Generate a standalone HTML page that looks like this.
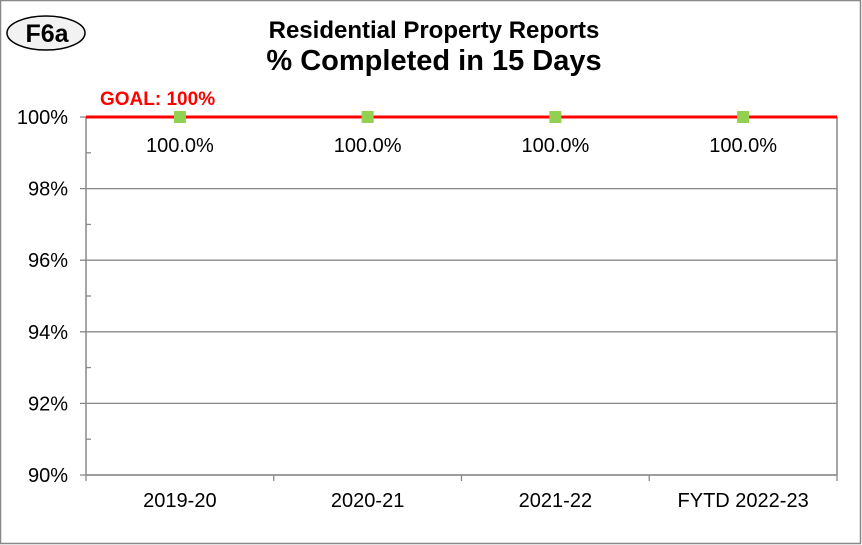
<!DOCTYPE html>
<html><head><meta charset="utf-8"><style>
html,body{margin:0;padding:0;background:#fff;}
svg{display:block;font-family:"Liberation Sans",Arial,sans-serif;}
</style></head><body>
<svg id="chart" width="862" height="545" viewBox="0 0 862 545">
<rect x="0.5" y="0.5" width="860" height="543" fill="#fff" stroke="#888" stroke-width="1.5"/>
<ellipse cx="46" cy="33" rx="39" ry="17" fill="#f2f2f2" stroke="#000" stroke-width="1.5"/>
<text x="47" y="42" text-anchor="middle" font-size="25" font-weight="bold">F6a</text>
<text x="434" y="38" text-anchor="middle" font-size="24" font-weight="bold">Residential Property Reports</text>
<text x="434" y="70" text-anchor="middle" font-size="29" font-weight="bold">% Completed in 15 Days</text>
<g id="grid"></g><g id="axes"></g><g id="marks"></g>
</svg>
<script>
const categories = ["2019-20","2020-21","2021-22","FYTD 2022-23"];
const values = [100.0,100.0,100.0,100.0];
const valueLabels = ["100.0%","100.0%","100.0%","100.0%"];
const yTicks = [90,92,94,96,98,100];
const yTickLabels = ["90%","92%","94%","96%","98%","100%"];
const goalValue = 100;
const goalLabel = "GOAL: 100%";

const NS="http://www.w3.org/2000/svg";
const L=86,R=837,T=117,B=475,yMin=90,yMax=100;
const y=v=>B-(v-yMin)/(yMax-yMin)*(B-T);
const band=(R-L)/categories.length;
const x=i=>L+band*(i+0.5);
function mk(parent,tag,attrs){const e=document.createElementNS(NS,tag);for(const k in attrs)e.setAttribute(k,attrs[k]);document.getElementById(parent).appendChild(e);return e;}
yTicks.forEach((t,i)=>{
  const g=mk('grid','line',{x1:L-6,x2:R,y1:y(t),y2:y(t),stroke:'#888','stroke-width':1.3});
  
  
  const tx=mk('axes','text',{x:68,y:y(t)+7,'text-anchor':'end','font-size':20});
  tx.textContent=yTickLabels[i];
  
  
  if(i<yTicks.length-1){
    const m=mk('axes','line',{x1:L,x2:L+5,y1:y(t+1),y2:y(t+1),stroke:'#888','stroke-width':1.3});
    
    
  }
});
const ya=mk('axes','line',{x1:L,x2:L,y1:T,y2:B,stroke:'#888','stroke-width':1.5});


const ra=mk('axes','line',{x1:R,x2:R,y1:T,y2:B,stroke:'#888','stroke-width':1.5});


const xa=mk('axes','line',{x1:L,x2:R,y1:B,y2:B,stroke:'#888','stroke-width':1.5});


for(let i=0;i<=categories.length;i++){
  const tk=mk('axes','line',{x1:L+band*i,x2:L+band*i,y1:B,y2:B+6,stroke:'#888','stroke-width':1.3});
  
  
}
categories.forEach((c,i)=>{
  const t=mk('axes','text',{x:x(i),y:B+32,'text-anchor':'middle','font-size':20});
  t.textContent=c;
  
  
});
const gl=mk('marks','line',{x1:L,x2:R,y1:y(goalValue),y2:y(goalValue),stroke:'#ff0000','stroke-width':3});


const gt=mk('marks','text',{x:100,y:y(goalValue)-12,'font-size':19,'font-weight':'bold',fill:'#ff0000'});
gt.textContent=goalLabel;


values.forEach((v,i)=>{
  const p=mk('marks','rect',{x:x(i)-6,y:y(v)-6,width:12,height:12,fill:'#92d050'});
  
  
  const t=mk('marks','text',{x:x(i),y:y(v)+35,'text-anchor':'middle','font-size':20});
  t.textContent=valueLabels[i];
  
  
});
</script>
</body></html>
